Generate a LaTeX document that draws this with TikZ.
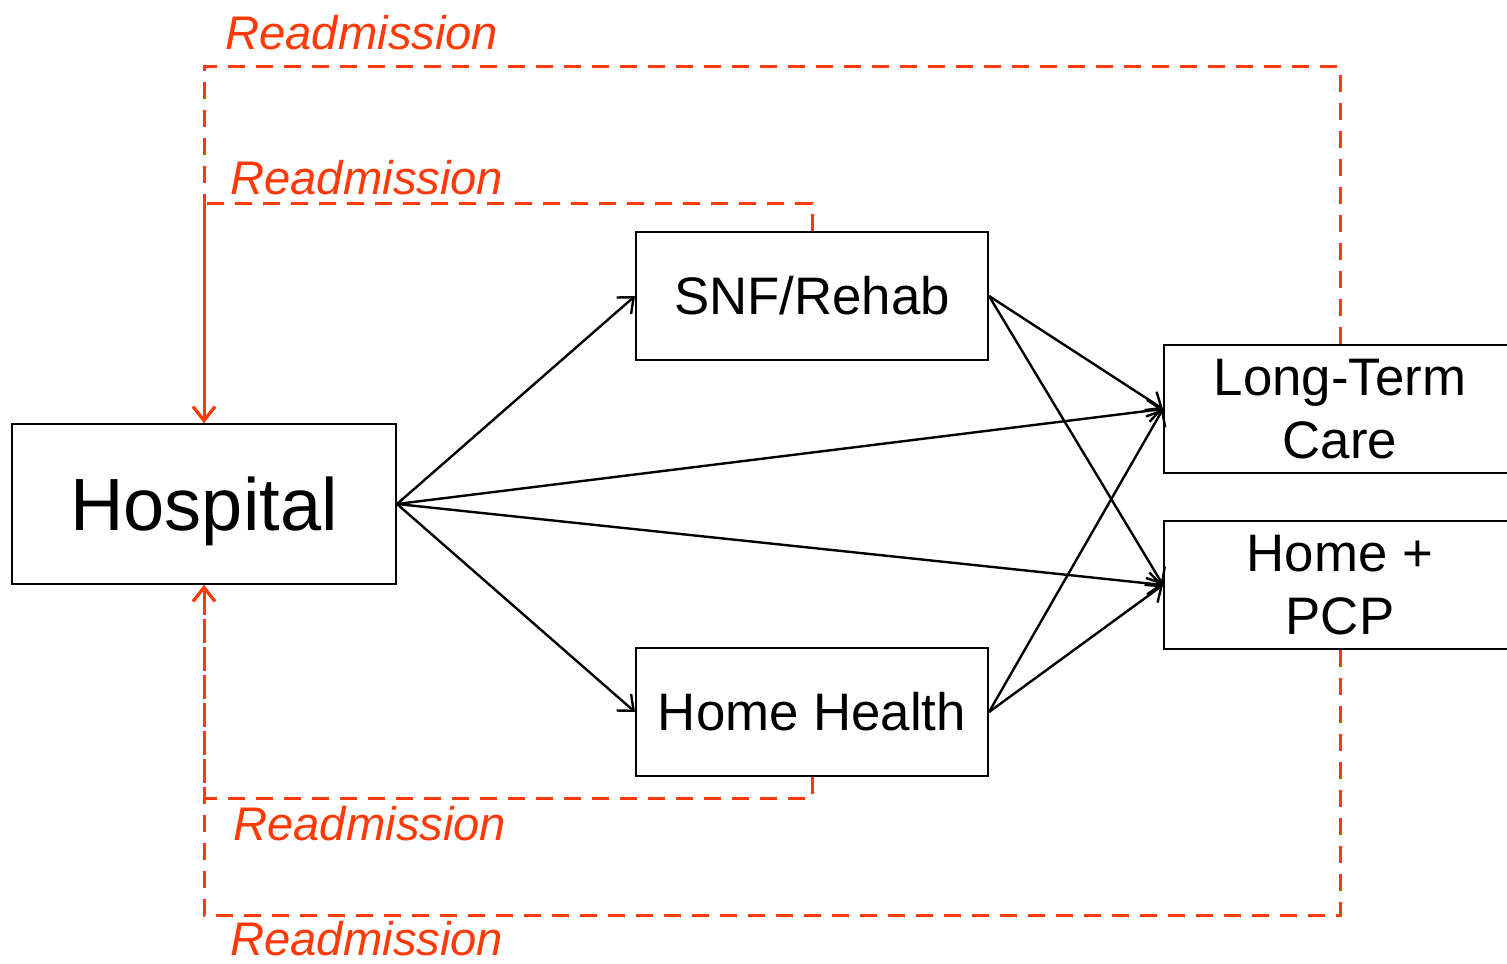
\documentclass[tikz,border=0pt]{standalone}
\usepackage{fontspec}
\setmainfont{Liberation Sans}
\usetikzlibrary{arrows.meta}
\definecolor{readm}{RGB}{255,58,8}
\begin{document}
\begin{tikzpicture}[x=0.5pt,y=-0.5pt,
  box/.style={draw=black,line width=1pt,fill=white,align=center,inner sep=0pt,
    minimum width=176pt,minimum height=64pt,font=\fontsize{26.4}{31.7}\selectfont},
  flow/.style={draw=black,line width=1.2pt,-{Straight Barb[length=6.5pt,width=11pt]}},
  back/.style={draw=readm,line width=1.5pt,dash pattern=on 8.5pt off 5.5pt},
  backarrow/.style={back,-{Straight Barb[length=7pt,width=11pt,line width=1.5pt]}},
  rlabel/.style={text=readm,inner sep=0pt,anchor=base west,
    font=\fontsize{23.6}{28}\selectfont\itshape}]
\useasboundingbox (0,0) rectangle (1507,963);

% care settings
\node[box,minimum width=192pt,minimum height=80pt,text depth=0pt,
  font=\fontsize{37}{44}\selectfont] (hosp) at (204,504) {Hospital};
\node[box] (snf) at (812,296) {SNF/Rehab};
\node[box] (hh)  at (812,712) {Home Health};
\node[box] (ltc) at (1340,409) {Long-Term\\Care};
\node[box] (pcp) at (1340,585) {Home +\\PCP};

% discharge flows
\draw[flow] (hosp.east) -- (snf.west);
\draw[flow] (hosp.east) -- (hh.west);
\draw[flow] (hosp.east) -- (ltc.west);
\draw[flow] (hosp.east) -- (pcp.west);
\draw[flow] (snf.east) -- (ltc.west);
\draw[flow] (snf.east) -- (pcp.west);
\draw[flow] (hh.east) -- (ltc.west);
\draw[flow] (hh.east) -- (pcp.west);

% readmission loops back to the hospital
\coordinate (topouter) at (204,67);
\coordinate (topinner) at (204,203);
\coordinate (botinner) at (204,798);
\coordinate (botouter) at (204,915);
\draw[backarrow] (ltc.north) |- (topouter) -- (hosp.north);
\draw[backarrow] (snf.north) |- (topinner) -- (hosp.north);
\draw[backarrow] (hh.south) |- (botinner) -- (hosp.south);
\draw[backarrow] (pcp.south) |- (botouter) -- (hosp.south);

\node[rlabel] (r1) at (225,50) {Readmission};
\node[rlabel] (r2) at (230,194) {Readmission};
\node[rlabel] (r3) at (233,840) {Readmission};
\node[rlabel] (r4) at (230,955) {Readmission};
\end{tikzpicture}
\end{document}
